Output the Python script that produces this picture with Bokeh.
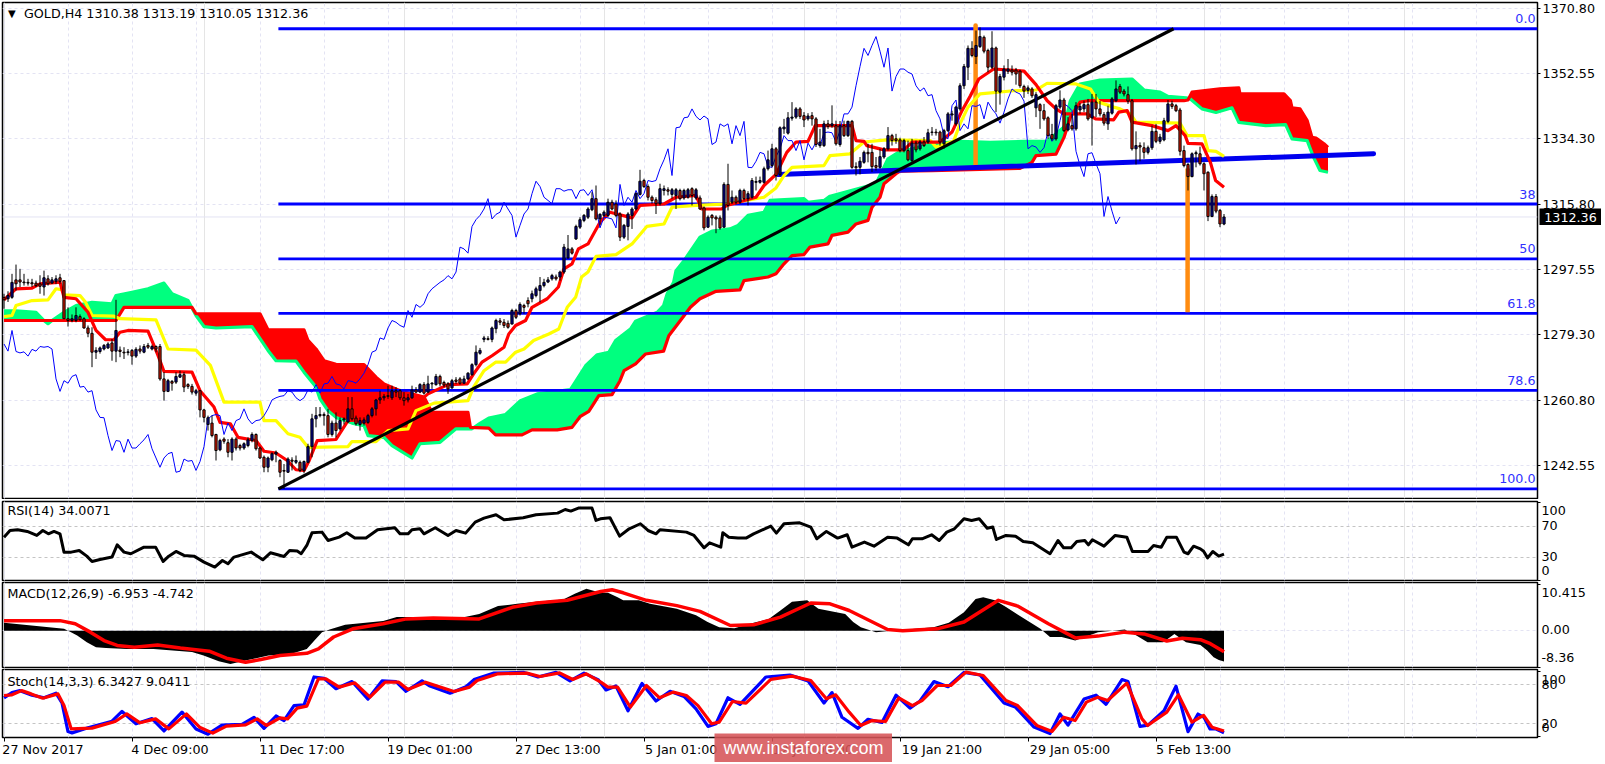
from bokeh.embed import file_html
from bokeh.layouts import column
from bokeh.models import ColumnDataSource, FixedTicker, Grid, Label, LinearAxis, Range1d, Span, PrintfTickFormatter
from bokeh.plotting import figure
from bokeh.resources import INLINE
import numpy as np

# ---------- candles (H4 bars, index 0..305) ----------
opens = [1289.8,1289.4,1289.8,1294.7,1294.7,1294.1,1294.0,1293.9,1293.8,1293.6,
1292.7,1295.0,1293.8,1294.3,1295.3,1294.5,1283.8,1283.3,1283.3,1284.4,
1283.8,1281.2,1279.7,1274.4,1274.6,1275.3,1275.6,1277.0,1274.7,1275.0,
1274.4,1274.3,1274.9,1273.3,1275.3,1274.4,1276.3,1275.3,1276.0,1276.0,
1266.9,1263.4,1266.2,1266.0,1267.4,1268.1,1265.3,1264.8,1262.9,1263.6,
1258.2,1254.1,1254.5,1251.3,1247.0,1250.0,1249.0,1246.3,1250.0,1248.2,
1247.5,1248.2,1249.6,1251.3,1247.5,1244.9,1242.1,1244.2,1245.8,1244.0,
1241.2,1240.7,1244.1,1243.5,1243.5,1241.2,1243.5,1247.9,1255.7,1256.6,
1256.9,1256.6,1251.3,1254.5,1252.9,1255.4,1254.8,1258.5,1255.9,1254.1,
1254.5,1254.7,1256.6,1258.5,1261.0,1261.6,1262.0,1261.6,1263.6,1263.6,
1261.6,1261.0,1261.6,1263.8,1263.2,1265.3,1263.2,1265.5,1265.3,1267.6,
1265.9,1265.5,1264.4,1266.6,1266.9,1265.7,1266.9,1268.1,1270.9,1274.1,
1278.0,1278.2,1278.0,1281.0,1283.2,1282.8,1282.5,1282.3,1286.1,1285.2,
1287.5,1288.9,1289.4,1290.3,1291.7,1293.1,1294.1,1295.0,1295.5,1295.5,
1296.9,1300.9,1303.4,1306.2,1309.5,1311.4,1312.3,1314.4,1317.5,1311.8,
1312.8,1312.8,1316.5,1316.0,1313.2,1306.7,1309.7,1312.8,1314.6,1318.7,
1322.6,1320.9,1317.9,1317.2,1316.1,1319.8,1320.0,1318.7,1318.4,1319.8,
1317.7,1317.9,1320.3,1317.7,1317.7,1314.9,1309.5,1312.8,1312.3,1312.1,
1309.5,1321.5,1316.5,1317.9,1316.5,1319.8,1317.5,1317.9,1322.1,1322.1,
1322.1,1325.9,1326.8,1331.5,1324.3,1337.1,1335.9,1340.1,1340.4,1342.7,
1340.8,1339.9,1340.8,1339.9,1332.4,1332.4,1338.5,1338.0,1338.0,1332.7,
1338.0,1335.2,1339.2,1326.5,1326.3,1327.7,1330.5,1330.5,1326.8,1326.3,
1329.2,1331.5,1335.2,1334.3,1334.0,1331.0,1331.0,1328.2,1333.1,1331.5,
1333.4,1333.4,1336.1,1336.2,1336.2,1332.9,1336.6,1341.0,1338.5,1342.7,
1349.2,1354.4,1359.7,1357.4,1360.2,1362.8,1359.1,1354.4,1359.8,1347.4,
1351.6,1353.3,1353.6,1353.6,1353.3,1349.0,1347.9,1348.3,1343.0,1343.9,
1342.2,1340.2,1335.5,1334.3,1343.2,1345.2,1336.8,1338.0,1337.1,1342.4,
1342.7,1343.9,1340.2,1344.6,1342.7,1341.1,1338.5,1341.5,1345.0,1349.0,
1347.7,1346.7,1345.0,1331.5,1332.4,1331.8,1330.5,1331.8,1336.4,1333.6,
1334.0,1339.2,1344.1,1343.6,1342.4,1331.0,1327.1,1323.7,1330.1,1330.1,
1327.3,1324.9,1312.5,1318.1,1314.2,1310.38]

highs = [1290.8,1291.5,1296.4,1299.0,1297.8,1296.4,1295.0,1295.0,1294.5,1296.0,
1297.3,1296.0,1295.5,1296.0,1296.4,1294.6,1287.0,1285.0,1287.0,1285.0,
1284.2,1281.9,1281.4,1275.8,1276.0,1276.7,1277.2,1278.1,1289.1,1276.0,
1275.8,1275.3,1275.3,1275.8,1276.3,1276.7,1277.0,1276.5,1276.3,1276.7,
1268.8,1266.9,1266.6,1268.8,1269.2,1268.8,1265.7,1265.5,1264.1,1263.8,
1258.5,1256.6,1256.6,1251.5,1250.1,1250.5,1250.0,1250.5,1250.5,1248.7,
1249.1,1250.5,1251.9,1251.6,1247.9,1245.4,1245.1,1246.3,1246.8,1244.4,
1243.0,1244.9,1244.9,1245.4,1244.0,1244.0,1248.7,1257.1,1259.0,1259.0,
1257.5,1258.5,1255.2,1257.5,1256.1,1256.1,1261.8,1261.8,1256.6,1256.1,
1256.1,1257.1,1259.0,1261.3,1263.6,1262.7,1265.0,1265.0,1264.6,1264.1,
1263.2,1262.7,1265.0,1264.6,1265.7,1266.0,1267.8,1266.0,1268.3,1268.1,
1266.4,1266.0,1266.9,1267.4,1267.4,1267.8,1268.8,1271.3,1276.3,1275.6,
1279.0,1278.9,1281.6,1283.8,1284.0,1283.7,1283.3,1286.6,1286.6,1288.4,
1288.0,1289.8,1291.7,1292.8,1295.5,1295.0,1295.5,1296.4,1296.2,1297.3,
1304.8,1307.3,1303.9,1310.2,1312.3,1313.2,1315.1,1319.3,1321.2,1313.4,
1314.2,1317.5,1317.2,1317.0,1313.7,1310.4,1313.7,1315.1,1319.3,1325.6,
1323.1,1321.5,1318.4,1317.9,1321.7,1321.2,1320.7,1320.5,1320.5,1320.3,
1320.3,1320.5,1320.7,1320.5,1318.4,1315.3,1312.8,1313.2,1312.8,1312.8,
1322.1,1327.3,1319.8,1318.4,1320.3,1320.3,1319.6,1323.3,1323.7,1323.7,
1326.5,1331.0,1332.9,1332.0,1337.8,1339.9,1341.8,1344.6,1343.2,1343.2,
1341.8,1341.5,1341.8,1340.4,1337.1,1339.4,1339.6,1343.7,1339.4,1339.3,
1339.4,1339.4,1339.6,1327.7,1329.2,1331.0,1332.9,1332.9,1329.2,1331.5,
1332.0,1337.6,1335.7,1335.7,1334.6,1334.3,1333.8,1334.3,1333.8,1334.0,
1334.8,1337.1,1337.6,1337.1,1336.6,1337.1,1341.8,1342.2,1343.6,1349.9,
1355.3,1360.5,1361.7,1364.7,1365.6,1363.3,1359.6,1364.5,1360.2,1352.5,
1354.9,1356.7,1354.9,1354.2,1353.7,1349.5,1349.3,1348.8,1347.4,1344.3,
1344.1,1340.6,1338.5,1344.1,1347.9,1345.8,1340.4,1341.3,1344.6,1344.3,
1345.0,1345.5,1346.9,1346.9,1344.9,1341.8,1343.6,1346.0,1350.7,1349.7,
1348.3,1349.0,1345.5,1336.4,1333.3,1333.3,1332.4,1338.0,1338.5,1335.7,
1340.2,1345.2,1345.0,1344.1,1343.0,1332.4,1327.5,1330.5,1331.0,1332.1,
1327.7,1325.2,1318.7,1318.8,1314.6,1313.19]

lows = [1286.6,1288.5,1289.4,1291.7,1292.7,1293.1,1293.1,1292.7,1292.7,1290.8,
1290.3,1293.1,1293.6,1293.5,1293.6,1283.7,1281.6,1282.8,1282.8,1283.3,
1281.0,1278.6,1270.2,1272.5,1274.0,1274.9,1275.3,1272.0,1271.6,1273.0,
1272.5,1273.5,1270.9,1272.8,1274.0,1274.1,1275.3,1274.9,1274.4,1266.4,
1260.8,1263.2,1263.6,1265.5,1267.2,1263.2,1264.1,1262.5,1262.2,1256.1,
1254.7,1252.4,1250.5,1244.0,1246.6,1248.7,1244.9,1244.0,1246.8,1246.8,
1247.0,1247.7,1249.1,1246.8,1244.4,1240.7,1240.7,1243.8,1243.5,1239.3,
1236.0,1240.5,1241.2,1243.0,1240.7,1240.4,1243.2,1244.9,1253.3,1256.1,
1253.8,1250.5,1250.7,1250.5,1252.4,1254.1,1254.7,1255.2,1253.8,1252.4,
1253.8,1254.3,1256.1,1256.6,1259.9,1260.8,1261.3,1261.0,1261.8,1261.0,
1259.4,1260.3,1261.3,1262.9,1262.9,1262.5,1262.9,1264.1,1265.0,1264.8,
1264.6,1262.7,1264.1,1265.5,1265.3,1265.5,1266.6,1267.8,1270.4,1273.7,
1277.2,1277.7,1277.2,1279.7,1282.0,1281.2,1281.0,1282.2,1283.7,1284.7,
1285.2,1287.0,1288.4,1289.8,1288.4,1292.6,1293.8,1294.5,1294.5,1294.5,
1296.4,1300.6,1301.8,1305.9,1309.0,1310.9,1311.8,1314.0,1311.4,1310.0,
1312.3,1312.3,1314.2,1312.3,1305.6,1306.2,1305.8,1309.0,1314.2,1318.4,
1320.5,1317.0,1316.1,1313.2,1315.6,1318.4,1318.4,1317.5,1314.6,1317.0,
1317.2,1317.5,1315.6,1317.2,1314.4,1308.6,1309.3,1310.0,1307.8,1308.8,
1309.3,1314.2,1316.0,1315.9,1316.0,1317.0,1315.6,1317.5,1319.8,1321.7,
1321.7,1325.4,1326.3,1322.6,1323.7,1335.7,1335.5,1339.4,1339.9,1339.9,
1337.6,1339.4,1338.0,1332.0,1331.8,1332.0,1337.1,1337.4,1332.4,1332.1,
1334.8,1334.8,1325.9,1324.0,1324.3,1327.3,1327.7,1325.0,1325.4,1325.9,
1328.7,1331.0,1332.4,1332.9,1330.5,1330.5,1328.0,1327.7,1330.5,1331.0,
1332.0,1332.9,1335.2,1335.2,1332.4,1331.5,1336.2,1339.4,1338.0,1342.2,
1348.3,1350.8,1357.2,1355.3,1359.8,1358.3,1353.0,1353.9,1341.8,1343.9,
1350.7,1352.5,1352.1,1349.5,1348.6,1345.8,1346.9,1345.8,1340.4,1337.1,
1339.4,1334.3,1333.8,1333.8,1342.7,1336.2,1336.4,1336.6,1336.6,1341.3,
1341.8,1339.4,1332.4,1340.4,1340.6,1338.0,1336.8,1341.1,1344.6,1346.9,
1346.2,1344.1,1331.0,1327.1,1328.0,1328.7,1329.9,1331.2,1333.1,1332.9,
1333.6,1338.7,1342.7,1341.8,1329.6,1326.3,1319.8,1323.5,1326.3,1326.8,
1319.8,1311.2,1312.3,1313.4,1309.5,1310.05]

closes = [1289.1,1290.3,1294.0,1293.6,1294.1,1293.9,1293.8,1293.6,1293.1,1292.9,
1295.3,1293.6,1294.7,1295.0,1294.3,1283.8,1283.3,1283.8,1284.7,1283.5,
1281.2,1279.7,1274.4,1274.9,1275.6,1276.3,1276.7,1274.7,1280.5,1274.6,
1274.2,1274.5,1273.3,1275.2,1274.7,1276.0,1275.8,1276.0,1275.3,1266.9,
1263.4,1266.4,1265.7,1267.6,1268.1,1264.6,1264.8,1263.2,1263.6,1258.2,
1256.1,1256.0,1251.0,1246.8,1249.6,1249.4,1246.3,1250.0,1247.5,1247.5,
1248.7,1249.8,1251.3,1247.3,1244.7,1242.1,1244.7,1245.9,1246.3,1240.7,
1241.0,1244.4,1243.8,1244.0,1241.2,1243.7,1247.9,1255.7,1256.6,1256.9,
1256.6,1251.3,1254.5,1252.4,1255.2,1255.7,1258.5,1255.7,1254.3,1255.2,
1255.4,1256.6,1258.5,1261.0,1261.6,1262.0,1262.2,1263.6,1263.2,1261.6,
1260.8,1261.6,1263.8,1263.2,1265.3,1262.9,1265.5,1265.7,1267.6,1265.5,
1265.2,1264.1,1266.4,1266.2,1265.7,1266.9,1268.5,1270.9,1274.4,1274.9,
1278.4,1278.0,1281.2,1283.3,1282.8,1281.9,1281.4,1286.1,1284.2,1287.8,
1287.0,1288.0,1290.8,1292.2,1293.1,1294.0,1294.7,1295.9,1295.0,1296.9,
1303.9,1303.4,1302.2,1309.7,1311.6,1312.8,1314.6,1317.5,1311.8,1313.1,
1313.7,1316.5,1314.6,1312.8,1306.7,1310.0,1313.2,1314.6,1318.9,1322.4,
1320.9,1317.9,1317.0,1316.1,1320.3,1320.3,1319.6,1320.0,1320.0,1317.5,
1319.8,1320.0,1318.4,1320.0,1314.6,1309.3,1312.3,1312.1,1311.8,1309.3,
1321.5,1315.6,1317.9,1316.5,1319.8,1317.5,1318.9,1322.6,1322.3,1322.6,
1325.9,1328.4,1331.5,1324.0,1337.4,1337.6,1340.2,1340.4,1342.7,1340.6,
1339.6,1340.7,1339.9,1332.7,1333.4,1338.5,1337.8,1338.5,1332.9,1338.0,
1335.2,1339.2,1326.3,1326.2,1328.0,1330.5,1330.1,1326.5,1326.3,1329.3,
1331.5,1335.2,1333.8,1333.8,1331.0,1333.8,1328.4,1333.1,1331.2,1333.4,
1332.4,1336.0,1336.2,1336.0,1333.4,1336.6,1341.3,1341.3,1343.2,1349.2,
1354.6,1359.7,1357.7,1360.5,1363.0,1358.9,1354.4,1359.8,1347.7,1351.8,
1353.9,1353.9,1353.0,1352.5,1349.2,1347.7,1348.6,1346.4,1346.7,1342.2,
1339.9,1335.2,1334.3,1343.6,1345.2,1336.6,1338.5,1337.1,1343.6,1343.4,
1343.9,1339.9,1344.6,1342.7,1341.3,1338.7,1341.8,1345.5,1348.3,1347.4,
1346.9,1344.9,1331.5,1332.4,1332.0,1330.5,1331.8,1336.4,1333.6,1334.8,
1339.4,1344.1,1343.4,1342.2,1330.8,1326.8,1323.7,1330.1,1330.4,1327.3,
1324.5,1312.5,1318.1,1314.0,1310.4,1312.36]

# ---------- Ichimoku ----------
kijun_x = [0,2,3,7,11,13,14.6,15,19,20.4,22,27.5,29,38,41,48,51.6,55,64,65,68,71,74,76,86,87,93,96,101,103,107.5,116,117.4,120,122.9,125.4,127.9,130,132.4,136.2,138.7,140,140.8,142.9,144.4,146,148,153,157,160.7,165,167,173,180.7,190,193,195,197,205,206.5,211.5,215,220.7,231.6,233,237.4,239,241,244,252.4,258,260.8,268,271.6,273.7,277.4,279,281.6,283,294,295.8,300,301,303,305]
kijun_y = [1284.4,1284.7,1287.5,1288.9,1289.1,1292.2,1291.9,1290.5,1290.3,1288.4,1284.7,1284.5,1283.8,1283.5,1275.3,1275.0,1270.7,1260.4,1260.4,1255.2,1255.2,1251.5,1250.5,1247.7,1247.9,1249.3,1249.3,1252.4,1252.9,1258.0,1260.1,1260.8,1264.6,1269.2,1271.6,1271.6,1274.4,1275.3,1277.7,1279.5,1280.9,1284.7,1287.0,1289.8,1295.5,1296.9,1301.3,1301.8,1304.8,1309.7,1310.4,1315.1,1315.6,1316.0,1317.9,1320.5,1324.0,1326.3,1326.8,1329.6,1330.1,1333.4,1334.0,1333.8,1332.0,1333.6,1338.5,1343.2,1346.9,1347.8,1348.0,1349.9,1349.7,1348.3,1344.6,1343.2,1342.7,1341.3,1339.0,1338.7,1335.2,1335.2,1331.0,1330.8,1329.4]

tenkan_x = [0,3,7,9,14,15,18,21,23,25.4,27.5,29,31,36,38.5,40,47,49,52.5,54,56.6,58.5,63,65,68,70.8,73,75,76.3,78.3,83,86,90,93,104,106,111,115.8,117.4,119.5,122,125,126.2,127.9,130.4,132,135.8,138.6,140,142,143.6,146,149,151.5,157,159,165,168,173,174.4,179.4,180.7,188,190,193,195.7,198,201,202.8,212,213,215,215.7,220,225,227,234,237,239.5,241.6,243.7,247.4,255,258,260.8,263,265,270.8,272.9,277.4,278.7,280.8,282,287,291,293,295.3,296,299.5,301.6,302.9,305]
tenkan_y = [1289.1,1292.2,1292.4,1293.6,1294.05,1289.8,1289.4,1285.6,1280.5,1277.9,1277.9,1280.0,1280.5,1280.3,1273.5,1269.0,1268.8,1263.6,1259.0,1254.7,1254.3,1250.5,1249.6,1246.6,1246.1,1244.0,1241.4,1241.2,1244.0,1249.6,1249.9,1255.2,1255.7,1260.8,1260.8,1262.7,1265.3,1265.5,1268.3,1271.6,1273.4,1275.8,1279.5,1281.9,1283.3,1287.0,1289.4,1292.7,1297.8,1299.2,1303.4,1304.8,1310.9,1313.7,1312.1,1315.6,1316.0,1317.9,1318.4,1314.6,1314.6,1315.6,1317.9,1321.2,1324.3,1330.5,1333.4,1333.6,1338.0,1338.0,1333.8,1333.6,1332.4,1331.2,1331.2,1333.4,1333.4,1336.2,1342.2,1346.4,1351.1,1353.9,1353.3,1349.5,1345.0,1342.7,1341.3,1341.3,1339.9,1339.6,1341.8,1342.2,1339.0,1338.0,1336.6,1338.0,1335.2,1333.0,1332.9,1327.7,1322.6,1320.7]

span_a_x = [0,3,8,10,11,12,15,18,22,27,28,32,36,40,42,46,48,50,53,62,66,68,73,75,78,79,81,83,87,90,91,95,97,102,104,109,113,117,119,121.2,125.4,129.1,133.3,141.6,145.4,148.3,151.2,152.9,156.6,157.9,163.3,164.9,165.8,167.4,168,170,172,174,177,181.5,183.5,186,190,191.5,200,201,205,206.5,218,219,221,223.6,232,239,246.6,255,260.8,265,266.6,269,274,282,285,289,291,295.5,296.6,299.5,303,307,308.7,315.4,320.4,322,325.8,327.4,329,331]
span_a_y = [1286.0,1286.0,1285.6,1283.3,1282.4,1283.3,1285.6,1287.5,1288.4,1288.0,1290.3,1291.2,1292.2,1293.8,1290.8,1288.9,1284.7,1281.6,1281.2,1281.6,1274.9,1272.0,1271.9,1268.8,1264.6,1261.3,1258.0,1256.1,1254.5,1253.8,1251.0,1250.5,1248.2,1244.7,1248.7,1249.1,1252.9,1252.9,1254.4,1255.9,1256.9,1260.8,1262.7,1263.9,1270.6,1273.7,1274.4,1277.7,1280.9,1283.1,1285.6,1287.5,1290.8,1294.0,1297.3,1300.1,1303.4,1306.7,1308.4,1309.0,1310.0,1312.8,1313.7,1317.0,1317.5,1316.5,1317.0,1318.2,1321.7,1324.0,1328.7,1330.5,1332.9,1333.6,1333.3,1333.6,1333.6,1337.6,1345.0,1349.7,1350.8,1351.1,1348.0,1347.4,1346.2,1345.8,1345.5,1342.7,1341.7,1343.0,1338.9,1338.0,1338.3,1334.3,1333.8,1329.1,1325.4,1324.9]

span_b_x = [0,28,30,47,48,64,66,75,76,78,80,83,90,93,95,99,105,107,116,116.6,121.2,122.9,129.5,132,138.3,142,144,146.2,147.4,148.7,152,154,155,157.9,160.4,164.9,166.2,169.1,171.6,174,178,184,185,191,193,195,197,200,201.5,206,207,211,213,216,217,219,220,223,224,232,254,257,258,263,265,266.6,269,271,295,296,297,304,308.7,309,320,321.6,322,324,325.8,327,328,330,331]
span_b_y = [1283.3,1283.3,1287.0,1287.0,1285.2,1285.2,1280.7,1280.7,1277.7,1275.3,1272.0,1271.0,1270.9,1267.4,1265.5,1263.6,1261.8,1257.5,1257.5,1253.3,1253.1,1251.2,1251.2,1252.6,1252.6,1253.3,1256.3,1257.8,1259.9,1262.2,1262.5,1266.4,1269.2,1271.1,1273.9,1274.7,1279.0,1283.3,1287.0,1289.4,1291.5,1291.9,1294.5,1295.5,1296.4,1299.2,1301.5,1301.8,1303.9,1304.8,1307.2,1308.1,1310.4,1311.4,1315.1,1317.9,1321.7,1324.5,1325.2,1325.4,1326.0,1327.7,1329.6,1330.0,1334.7,1340.4,1344.6,1345.0,1345.0,1345.2,1347.4,1348.3,1348.6,1346.9,1346.9,1345.0,1343.0,1342.7,1339.4,1334.7,1334.5,1332.9,1331.9]

# ---------- drawn objects ----------
fib_levels = [1365.2, 1316.0, 1300.6, 1285.3, 1263.7, 1236.05]
fib_names = ["0.0", "38", "50", "61.8", "78.6", "100.0"]
fib_start = 68.6
trend_x = [68.6, 292.4]
trend_y = [1236.05, 1365.2]
neck_x = [193.4, 342.4]
neck_y = [1324.3, 1330.1]
orange1_x = [242.9, 242.9]
orange1_y = [1366.1, 1326.3]
orange2_x = [295.9, 295.9]
orange2_y = [1326.0, 1285.6]
price_ticks = [1370.80, 1352.55, 1334.30, 1315.80, 1297.55, 1279.30, 1260.80, 1242.55]
last_price = 1312.36

# ---------- RSI ----------
rsi_x = [0,1.5,3.4,5.8,8.2,9.7,11.1,12.5,14,15,16.8,18.8,20.7,22,24,27,28.3,30,31.7,35,37.9,39.8,41.2,43,45,47.5,50,52.7,54.6,56,57.5,61.8,64.7,66.6,70,71.4,73.3,74.3,75.7,77,79.5,81,83.8,85.7,87.7,90.5,93.4,97.7,99,101,102,104,105,107.8,111,113,115.4,117.8,120,123,125,129.8,133,138.4,140.3,141.7,143.6,147,148,149.1,151.5,153.9,156.3,159.1,161,163,164,170.6,172.5,175,176.4,179.2,179.7,181.2,183.5,185.5,187.4,191.7,193.1,195,198.9,201.7,203.2,205.6,208.4,210.8,212,215.1,217.5,220.9,223.3,226.1,227.1,229.5,231.9,233.8,235.7,237.6,240,241.9,243.8,245.8,247.2,248.1,250.5,252.9,254.8,257.2,261.5,263.5,264.9,266.8,268.2,270.2,271.1,272.1,275,277.8,280.7,282.1,286,287.4,289.3,290.7,293.1,295,296,297.4,299.1,299.9,300.9,302.2,303.7,305]
rsi_y = [55.9,64.5,65.4,63.3,58.1,64.5,60.2,63.3,60.2,36.6,36.6,38.7,31.4,24.6,27.1,30.2,46,36.6,34.5,43,43,24.6,31.4,37.5,32.3,31.4,23.7,17.3,25.8,21.6,30.2,36.6,26.7,35.7,31,38.7,37.9,34.5,45.2,61.5,62.4,51.6,55.9,61.5,54.7,54.7,65.4,68,60.2,60.2,65.4,66.7,60.2,68,58.1,64.5,61.1,75.3,80.5,84.8,78.3,80.9,84.8,86.9,91.6,89.5,93.4,93.4,77.5,79.6,80.9,57.2,66.7,73.2,64.5,60.2,65.4,62.4,58.1,42.2,48.6,43,61.5,55.9,54.7,54.7,60.2,70.1,61.1,73.2,74.4,68.9,53.8,63.3,54.7,59,43,49.5,44.3,55.9,54.7,46,53.8,53.8,59,51.6,62.4,66.7,79.6,77.5,79.6,67.5,68.9,52.9,58.1,57.2,50.4,48.6,34.5,51.6,42.2,42.2,50.4,51.6,46,52.5,44.3,58.1,55.9,37.5,37.5,45.2,43,55.9,55.9,36.6,34.5,44.3,40.8,37.8,29.2,37.4,31.4,34.0]
rsi_levels = [70, 30]

# ---------- MACD ----------
hist_x = [0,15,16.4,18.3,20.7,23,25.5,30.7,37.4,42.2,47,49.9,53.7,56.6,60.4,66.1,71.9,75.7,77.6,79.5,81.4,85.3,94.8,98.2,104.4,114,118.8,123.5,128.3,133.1,139.8,142.7,145.6,149.1,151,153.4,154.8,158.7,161.5,168.2,173,175.9,178.8,182.6,187.4,191.2,194.1,197,200.8,203.6,210.3,212.3,214.2,218,221.8,232.4,236.2,240,242.9,244.8,247.7,250.5,254.4,259.1,261.5,264.4,267.8,273.5,280.2,283.1,285.9,289.8,292.6,295.5,299.1,300.8,302.4,303.7,305]
hist_y = [1.8,0.45,-0.15,-1.06,-2.57,-3.7,-3.9,-4.1,-4.1,-4.45,-4.8,-5.6,-6.9,-7.5,-6.7,-5.6,-5.2,-4.1,-2.2,-0.3,0.3,1.35,2.2,3.1,3.1,2.9,3.8,5.6,6.1,6.6,7.1,8.4,9.5,8.6,8.6,7.6,6.9,6.9,6.1,5,3.5,2,0.8,0.6,1.8,2.7,4.6,6.6,6.9,5,3.8,2,0.8,-0.3,0,0.8,1.8,4.2,7.2,7.6,6.9,5.4,3.1,0.45,-1.4,-1.4,-2.2,-0.3,0.3,-1.06,-2.6,-2.6,-0.7,-2.6,-3.2,-4.46,-5.97,-6.58,-6.95]
signal_x = [0,14,17.8,21.6,25,28.3,32.6,38.4,44.1,51.3,55.6,60.4,64.2,69,75.7,78.6,82.4,87.2,94.8,100.6,107.3,118.8,127.4,133.1,140.8,149.2,152,154.8,160.6,168.2,174,181.6,187.4,194.1,201.7,206.5,211.3,220.9,224.7,233.3,240,248.6,253.4,261.1,267.8,273.5,280.2,285,290.7,294.6,299.1,301.6,305]
signal_y = [2.3,2.3,1.6,-0.3,-2.2,-3.3,-3.7,-3.2,-3.9,-4.6,-6.2,-7.1,-6.5,-5.6,-5.1,-4.1,-1.4,0.45,1.6,2.7,2.9,2.7,5.4,6.3,6.9,8.9,9.3,8.6,6.9,5.7,4.4,1.2,1.35,3.1,6.3,6.1,4.6,0.3,0,0.45,2,6.9,5.6,1.6,-1.6,-1.2,-0.3,-0.7,-2.3,-1.7,-2,-2.9,-4.74]

# ---------- Stochastic ----------
stoch_sig_x = [0,2,4.4,6.8,9.7,13.5,15,16.8,22,27.8,30.7,34,37.9,41.2,45.6,48.9,52.2,55.6,60.4,63.3,65.6,69,70.9,73.3,75.7,78.6,80.5,83.8,87.7,91.5,95.3,98.7,101,105.4,107.3,112.5,116.4,118.3,123.5,130.7,134,138.9,142.2,145.6,149.2,151,153.4,156.6,160.6,163.9,167.3,170.6,173.5,176.9,178.8,182.1,185.5,191.7,197,201.7,205.6,207.9,211.3,214.2,217,220.4,223.7,227.1,229.5,233.3,236.7,240.5,244.8,250.5,253.4,258.2,262,264.9,267.8,270.6,273.5,275.9,280.7,284.5,285.9,290.7,293.6,297,299.1,299.9,302,305]
stoch_sig_y = [63.5,64.6,71,66,59.4,66,48,12.2,13.3,23.5,35.3,21.5,27.6,12.2,35.3,14.8,5.6,16.4,18.4,27.6,17.4,29.2,27.6,44,47.1,89.2,89.2,76.4,83,61,84,84,72.8,84,80,69.7,76.4,86.6,96.9,97.9,92.8,98.4,88.2,96.9,84,76.4,76.4,45.6,78.9,59.9,68.7,63.5,48,20,22.5,54.3,51.7,88.2,93.3,86.6,58.4,64.6,37.9,17.4,25,23.5,59.9,48,55.8,78.9,78.9,99.4,94.3,55.8,48,17.4,8.2,30.2,25,53.3,61,55.8,82.5,27.6,17.4,37.9,64.6,22.5,30.2,32.8,14.8,9.04]
stoch_main_x = [0,2,4,7,10,13,14.5,16,17,21,27,29.5,33,37,40,44.5,48,51,54.5,59.5,62.5,65,68,70,72.5,75,77.5,80,83,87,91,94.5,98,100.5,104.5,106.5,111.5,115.5,117.5,122.5,130,133.5,138,141.5,145,148.5,150.5,153,156,159.5,163,166.5,170,173,176,178,181,184,190.5,196.5,201,205,207,209.5,213.5,216,219.5,223,226.5,229,232.5,236,240,244,250,252.8,257.5,261.5,264,266,270,273,275.5,279.5,281,284,286,290,293,296,298.5,300,301.5,303,305]
stoch_main_y = [60,68,71,64,60,67,52,8,6,14,24,39,20,28,9,38,12,4,18,19,30,13,32,25,48,49,92,90,74,85,58,86,85,70,86,78,67,77,88,98,99,92,99,86,98,88,72,78,40,82,55,70,62,43,16,20,60,50,92,95,86,52,68,30,13,27,22,64,44,55,85,77,99,95,52,46,15,5,35,18,58,64,50,88,85,16,18,40,78,8,35,30,12,12,6.34]
stoch_levels = [80, 20]

# ---------- texts ----------
header_text = "GOLD,H4  1310.38 1313.19 1310.05 1312.36"
rsi_text = "RSI(14) 34.0071"
macd_text = "MACD(12,26,9) -6.953 -4.742"
stoch_text = "Stoch(14,3,3) 6.3427 9.0411"
rsi_labels = ["100", "70", "30", "0"]
rsi_label_pos = [90.3, 71.3, 31.3, 12.9]
macd_labels = ["10.415", "0.00", "-8.36"]
macd_label_pos = [8.67, 0.23, -6.05]
stoch_labels = ["100", "80", "20", "0"]
stoch_label_pos = [88.1, 80.5, 20.0, 14.3]
time_marks = [0, 32, 64, 96, 128, 160, 192, 224, 256, 288]
time_label_pos = [9.75, 41.5, 74.5, 106.5, 138.5, 169.3, 202.2, 234.5, 266.5, 297.4]
time_labels = ["27 Nov 2017", "4 Dec 09:00", "11 Dec 17:00", "19 Dec 01:00", "27 Dec 13:00", "5 Jan 01:00", "12 Jan 09:00", "19 Jan 21:00", "29 Jan 05:00", "5 Feb 13:00"]
banner_text = "www.instaforex.com"

# ---------- layout ----------
FONT = "DejaVu Sans"
FS = "12.7px"
X0, X1 = -0.375, 383.375
W = 1605
LEFT = 2
RIGHT = 68
grid_bars = list(range(0, 385, 16))
LAV = "#e3e3f3"

def make_panel(height, y_range, top, bottom, ticks, minor=()):
    p = figure(width=W, height=height, x_range=Range1d(X0, X1), y_range=Range1d(*y_range),
               output_backend="svg", toolbar_location=None, x_axis_location=None,
               y_axis_location="right", min_border_left=LEFT, min_border_right=RIGHT,
               min_border_top=top, min_border_bottom=bottom, background_fill_color="white",
               border_fill_color="white")
    p.outline_line_color = "black"
    p.outline_line_width = 1.5
    p.outline_line_alpha = 1
    p.yaxis.ticker = FixedTicker(ticks=ticks, minor_ticks=list(minor))
    p.yaxis.axis_line_color = None
    p.yaxis.major_tick_line_color = "black"
    p.yaxis.major_tick_out = 3
    p.yaxis.major_tick_in = 0
    p.yaxis.minor_tick_line_color = "black"
    p.yaxis.minor_tick_out = 3
    p.yaxis.minor_tick_in = 0
    p.yaxis.major_label_text_font = FONT
    p.yaxis.major_label_text_font_size = FS
    p.yaxis.major_label_text_color = "black"
    p.yaxis.major_label_standoff = 2
    p.ygrid.visible = False
    p.add_layout(Grid(dimension=0, ticker=FixedTicker(ticks=grid_bars), grid_line_color=LAV,
                      grid_line_dash=[3, 3], grid_line_width=1))
    return p

def label_axis(p, pos, names):
    p.yaxis.major_label_overrides = dict(zip(pos, names))
    p.yaxis.major_tick_out = 0
    p.yaxis.major_label_standoff = 1

def hgrid(p, ticks, color):
    p.add_layout(Grid(dimension=1, ticker=FixedTicker(ticks=ticks), grid_line_color=color,
                      grid_line_dash=[3, 3], grid_line_width=1))

def head_text(p, text, x, y):
    p.add_layout(Label(x=x, y=y, x_units="screen", y_units="data", text=text, text_font=FONT,
                       text_font_size=FS, text_color="black", text_baseline="middle"))

def overlay_box(width, height, left, top, text, font, size, text_color, fill, alpha):
    f = figure(width=width, height=height, x_range=Range1d(0, 1), y_range=Range1d(0, 1),
               output_backend="svg", toolbar_location=None, x_axis_location=None, y_axis_location=None,
               min_border_left=0, min_border_right=0, min_border_top=0, min_border_bottom=0,
               background_fill_color=fill, background_fill_alpha=alpha,
               border_fill_alpha=0, outline_line_color=None,
               styles={"position": "absolute", "left": f"{left}px", "top": f"{top}px", "z-index": "10"})
    f.grid.visible = False
    f.add_layout(Label(x=0.5, y=0.5, text=text, text_font=font, text_font_size=size, text_color=text_color,
                       text_align="center", text_baseline="middle"))
    return f

# ---------- main panel ----------
main = make_panel(499, (1233.33, 1372.57), 2, 1, price_ticks)
main.yaxis.formatter = PrintfTickFormatter(format="%.2f")
hgrid(main, price_ticks, LAV)
main.add_layout(Span(location=last_price, dimension="width", line_color=LAV, line_width=1, level="underlay"))

ax = np.array(span_a_x); ay = np.array(span_a_y)
bx = np.array(span_b_x); by = np.array(span_b_y)

def cloud(lo, hi, color):
    ma = (ax >= lo) & (ax <= hi)
    mb = (bx >= lo) & (bx <= hi)
    main.patch(np.r_[ax[ma], bx[mb][::-1]], np.r_[ay[ma], by[mb][::-1]], fill_color=color, line_color=None)

GREEN = "#00ff7f"
RED = "#ff0000"
cloud(0, 48, GREEN)
cloud(48, 117, RED)
cloud(117, 296, GREEN)
cloud(296, 331, RED)
main.line(span_a_x, span_a_y, line_color=GREEN, line_width=3.2, line_join="round")
main.line(span_b_x, span_b_y, line_color=RED, line_width=3.2, line_join="round")

for lvl in fib_levels:
    main.line([fib_start, X1], [lvl, lvl], line_color="#0000ff", line_width=2.8)
main.line(orange1_x, orange1_y, line_color="#ff8c10", line_width=4.5, line_cap="round")
main.line(orange2_x, orange2_y, line_color="#ff8c10", line_width=4.5)
main.line(neck_x, neck_y, line_color="#0000ee", line_width=5, line_cap="round")

main.line(kijun_x, kijun_y, line_color="#ffff00", line_width=3.2, line_join="round")
main.line(tenkan_x, tenkan_y, line_color="#ff0000", line_width=3.2, line_join="round")
main.line(list(range(len(closes) - 26)), closes[26:], line_color="#0000ff", line_width=1)
main.line(trend_x, trend_y, line_color="black", line_width=3.2)

bars = list(range(len(opens)))
up = [c >= o for o, c in zip(opens, closes)]
src = ColumnDataSource(dict(
    x=bars, o=opens, h=highs, l=lows, c=closes,
    top=[max(o, c) for o, c in zip(opens, closes)],
    bot=[min(o, c) for o, c in zip(opens, closes)],
    col=["#000090" if u else "#d81800" for u in up]))
main.segment("x", "h", "x", "l", source=src, line_color="black", line_width=1)
main.vbar("x", 0.55, "top", "bot", source=src, fill_color="col", line_color="black", line_width=1)

for name, lvl in zip(fib_names, fib_levels):
    main.add_layout(Label(x=1533, y=lvl, x_units="screen", y_units="data", y_offset=10, text=name,
                          text_font=FONT, text_font_size=FS, text_color="#3030ff",
                          text_align="right", text_baseline="middle"))
main.add_layout(Label(x=5.5, y=1369.5, x_units="screen", y_units="data", text="▼", text_font=FONT,
                      text_font_size="10px", text_color="black", text_baseline="middle"))
main.add_layout(Label(x=21.5, y=1369.5, x_units="screen", y_units="data", text=header_text, text_font=FONT,
                      text_font_size=FS, text_color="black", text_baseline="middle"))

# ---------- RSI ----------
rsi = make_panel(82, (0, 101.9), 2, 1, rsi_label_pos, (100, 0))
label_axis(rsi, rsi_label_pos, rsi_labels)
hgrid(rsi, rsi_levels, "#c4c4c4")
rsi.line(rsi_x, rsi_y, line_color="black", line_width=3, line_join="round")
head_text(rsi, rsi_text, 5, 90.3)

# ---------- MACD ----------
macd = make_panel(87, (-8.30, 10.93), 1, 1, macd_label_pos, (10.415, -8.3))
label_axis(macd, macd_label_pos, macd_labels)
hgrid(macd, [0], LAV)
macd.varea(hist_x, [0] * len(hist_x), hist_y, fill_color="black")
macd.line(signal_x, signal_y, line_color="#ff0000", line_width=3.5, line_join="round")
head_text(macd, macd_text, 5, 8.45)

# ---------- Stochastic ----------
stoch = make_panel(96, (-1.08, 103.5), 1, 27, stoch_label_pos, (100, 0))
label_axis(stoch, stoch_label_pos, stoch_labels)
hgrid(stoch, stoch_levels, "#c4c4c4")
stoch.line(stoch_main_x, stoch_main_y, line_color="#0000ff", line_width=3.2, line_join="round")
stoch.line(stoch_sig_x, stoch_sig_y, line_color="#ff0000", line_width=3.2, line_join="round")
head_text(stoch, stoch_text, 5, 85.8)

xax = LinearAxis(ticker=FixedTicker(ticks=time_label_pos, minor_ticks=time_marks),
                 major_label_overrides=dict(zip(time_label_pos, time_labels)),
                 major_label_text_font=FONT, major_label_text_font_size=FS,
                 major_label_text_color="black", major_label_standoff=0, major_tick_out=0, major_tick_in=0,
                 major_tick_line_color=None, minor_tick_line_color="black", minor_tick_out=4, minor_tick_in=0,
                 axis_line_color=None)
stoch.add_layout(xax, "below")

# ---------- boxes that lie over the panels and the axes ----------
price_box = overlay_box(62, 17, 1539, 208, f"{last_price:.2f}", FONT, FS, "white", "black", 1.0)
banner = overlay_box(178, 29, 714, 733, banner_text, "Liberation Sans", "18px", "#ffffff", "#d65458", 0.88)

page = column(main, rsi, macd, stoch, spacing=0)
open("out.html", "w").write(file_html([page, price_box, banner], INLINE))
